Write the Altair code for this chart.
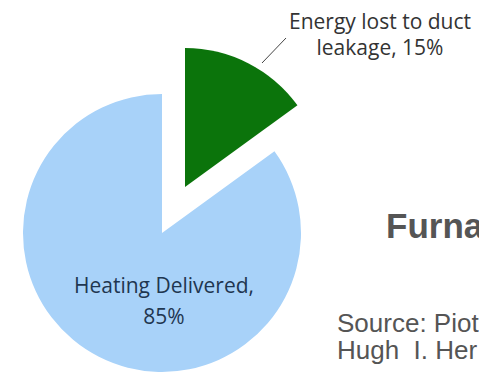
import altair as alt
import pandas as pd

# ---- data ----
categories = ["Energy lost to duct leakage", "Heating Delivered"]
shares = [15, 85]
slice_order = [0, 1]
slice_colors = ["#0b740b", "#a8d2f9"]
leak_label = ["Energy lost to duct", "leakage, 15%"]
heat_label = ["Heating Delivered,", "85%"]
title_text = ["Furna"]
source_lines = ["Source: Piot", "Hugh \u00a0I. Her"]

pie_df = pd.DataFrame({"category": categories, "share": shares, "order": slice_order})

color_scale = alt.Scale(domain=categories, range=slice_colors)
R = 139


def pie_layer(show, cx, cy):
    return alt.Chart(pie_df).mark_arc(outerRadius=R, stroke=None).encode(
        theta=alt.Theta("share:Q", stack=True),
        order=alt.Order("order:Q"),
        color=alt.Color("category:N", scale=color_scale, legend=None),
        opacity=alt.condition(
            alt.FieldEqualPredicate(field="category", equal=show),
            alt.value(1),
            alt.value(0),
        ),
        x=alt.value(cx),
        y=alt.value(cy),
    )


heat_pie = pie_layer(categories[1], 162, 233)
leak_pie = pie_layer(categories[0], 185, 187)

leader = alt.Chart(pd.DataFrame({"c": [categories[0]]})).mark_rule(
    color="#444444", strokeWidth=1
).encode(x=alt.value(262), y=alt.value(63), x2=alt.value(286), y2=alt.value(38))


def text_layer(lines, x, y, size, color, font, weight="normal", align="center", line_h=26):
    df = pd.DataFrame({"t": ["\n".join(lines)]})
    return alt.Chart(df).mark_text(
        align=align, baseline="alphabetic", fontSize=size, font=font,
        fontWeight=weight, color=color, lineBreak="\n", lineHeight=line_h,
    ).encode(text="t:N", x=alt.value(x), y=alt.value(y))


leak_text = text_layer(leak_label, 380, 29, 21, "#333333", "Open Sans", weight=500, line_h=26)
heat_text = text_layer(heat_label, 164, 293, 21, "#1f3650", "Open Sans", weight=500, line_h=31)
title = text_layer(title_text, 386, 238, 35, "#555555", "Liberation Sans", weight="bold", align="left")
source = text_layer(source_lines, 337, 332, 26, "#555555", "Liberation Sans", align="left", line_h=27)

chart = alt.layer(heat_pie, leak_pie, leader, leak_text, heat_text, title, source).properties(
    width=479, height=373, autosize=alt.AutoSizeParams(type="none"), padding=0,
    background="white",
).configure_view(stroke=None)

chart.save("out.html", embed_options={"renderer": "svg", "actions": False})
